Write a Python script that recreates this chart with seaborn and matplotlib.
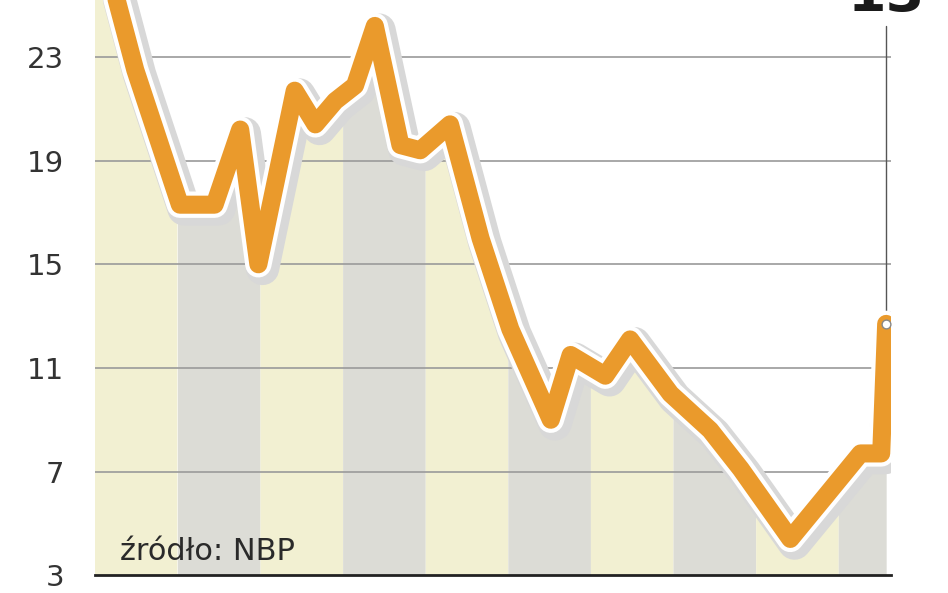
import matplotlib.pyplot as plt
import matplotlib.patheffects as pe
import numpy as np
import seaborn as sns

# time in years from start of axis, value in %
t = [0.06, 0.24, 0.49, 1.03, 1.45, 1.76, 1.98, 2.42, 2.67, 2.91, 3.15, 3.39, 3.70, 3.94,
     4.30, 4.67, 5.03, 5.52, 5.76, 6.18, 6.48, 6.97, 7.45, 7.82, 8.42, 8.91, 9.27, 9.52, 9.58]
v = [28.0, 25.5, 22.5, 17.3, 17.3, 20.2, 15.0, 21.7, 20.4, 21.3, 21.9, 24.2, 19.6, 19.4,
     20.4, 16.0, 12.5, 9.0, 11.5, 10.7, 12.1, 10.0, 8.6, 7.1, 4.4, 6.3, 7.7, 7.7, 12.7]
yticks = [3, 7, 11, 15, 19, 23]
band_colors = ['#f2f0d2', '#dcdcd6']

sns.set_style('white')
fig, ax = plt.subplots(figsize=(9.48, 5.93), dpi=100)
fig.subplots_adjust(left=0.1, right=0.94, top=1.0, bottom=0.03)

ax.set_xlim(0, 9.64)
ax.set_ylim(3, 25.2)

# alternating year bands under the line
for i in range(10):
    xs = np.linspace(i, min(i + 1, t[-1]), 60)
    if xs[0] >= t[-1]:
        break
    ax.fill_between(xs, 3, np.interp(xs, t, v), color=band_colors[i % 2], lw=0, zorder=1)

for y in yticks[1:]:
    ax.axhline(y, color='#9a9a9a', lw=1.2, zorder=2)

sns.lineplot(x=t, y=v, ax=ax, color='#ea9a2c', lw=13, zorder=4, sort=False,
             path_effects=[pe.Stroke(linewidth=24, foreground='#d8d8d8', offset=(3, -3)),
                           pe.Stroke(linewidth=19, foreground='white'), pe.Normal()])
ax.plot([t[-1], t[-1]], [v[-1], 24.2], color='#555555', lw=1, zorder=3)
ax.scatter([t[-1]], [v[-1]], s=40, color='white', edgecolor='#888888', zorder=5)
ax.text(t[-1], 24.3, '13', ha='center', va='bottom', fontsize=40, fontweight='bold',
        color='#1a1a1a', clip_on=False)
ax.text(0.3, 3.6, 'źródło: NBP', fontsize=22, color='#2a2a2a', zorder=6)

ax.set_yticks(yticks)
ax.set_yticklabels([str(y) for y in yticks], fontsize=21, color='#333333')
ax.set_xticks([])
ax.tick_params(axis='y', length=0, pad=22)
for s in ['top', 'right', 'left']:
    ax.spines[s].set_visible(False)
ax.spines['bottom'].set_color('#222222')
ax.spines['bottom'].set_linewidth(2)

fig.savefig('out.png')
